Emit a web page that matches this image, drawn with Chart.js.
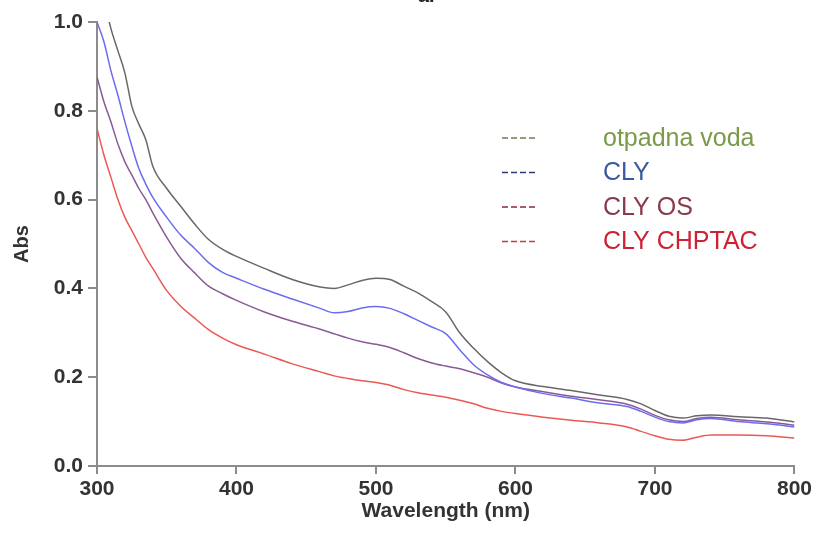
<!DOCTYPE html>
<html>
<head>
<meta charset="utf-8">
<script src="https://cdn.jsdelivr.net/npm/chart.js@4.4.1/dist/chart.umd.min.js"></script>
<style>
  body { margin: 0; background: #fff; }
</style>
</head>
<body>
<canvas id="grafico" width="815" height="536"></canvas>
<script>
// valores (Abs vs nm)
const wavelength = [300, 305, 310, 315, 320, 325, 330, 335, 340, 350, 360, 370, 380, 390, 400,
  420, 440, 460, 470, 480, 490, 500, 510, 520, 530, 540, 550, 560, 570, 580, 590, 600,
  620, 640, 660, 680, 690, 700, 710, 720, 730, 740, 760, 780, 800];

const otpadnaVoda = [1.12, 1.05, 0.985, 0.935, 0.885, 0.81, 0.77, 0.735, 0.675, 0.625, 0.585, 0.545, 0.51, 0.488, 0.472,
  0.445, 0.42, 0.403, 0.40, 0.408, 0.418, 0.423, 0.42, 0.405, 0.39, 0.37, 0.347, 0.30, 0.265, 0.235, 0.21, 0.192,
  0.179, 0.17, 0.16, 0.15, 0.14, 0.125, 0.112, 0.108, 0.113, 0.115, 0.111, 0.108, 0.099];

const cly = [1.0, 0.955, 0.89, 0.835, 0.775, 0.72, 0.67, 0.635, 0.605, 0.56, 0.52, 0.49, 0.458, 0.436, 0.423,
  0.398, 0.376, 0.355, 0.345, 0.348, 0.356, 0.359, 0.355, 0.343, 0.328, 0.313, 0.298, 0.262, 0.228, 0.205, 0.188, 0.178,
  0.163, 0.153, 0.142, 0.134, 0.123, 0.11, 0.10, 0.097, 0.104, 0.107, 0.10, 0.095, 0.088];

const clyOs = [0.876, 0.82, 0.775, 0.725, 0.685, 0.655, 0.625, 0.60, 0.57, 0.515, 0.468, 0.435, 0.405, 0.388, 0.373,
  0.347, 0.326, 0.308, 0.298, 0.288, 0.28, 0.274, 0.267, 0.255, 0.242, 0.232, 0.225, 0.219, 0.21, 0.20, 0.187, 0.178,
  0.167, 0.157, 0.149, 0.139, 0.128, 0.114, 0.104, 0.10, 0.107, 0.11, 0.104, 0.099, 0.092];

const clyChptac = [0.76, 0.70, 0.65, 0.60, 0.56, 0.53, 0.50, 0.47, 0.445, 0.395, 0.36, 0.333, 0.307, 0.288, 0.273,
  0.252, 0.23, 0.212, 0.203, 0.197, 0.192, 0.188, 0.182, 0.172, 0.165, 0.16, 0.155, 0.148, 0.14, 0.13, 0.123, 0.118,
  0.11, 0.103, 0.097, 0.088, 0.078, 0.068, 0.06, 0.058, 0.065, 0.07, 0.07, 0.068, 0.063];

const series = [
  { label: 'otpadna voda', values: otpadnaVoda, color: '#686868', dash: '#6f7f4f', text: '#7a9a4a' },
  { label: 'CLY', values: cly, color: '#6c6cf0', dash: '#2a3a7a', text: '#3a5aa0' },
  { label: 'CLY OS', values: clyOs, color: '#8a5a96', dash: '#8a2a3a', text: '#8a3a4a' },
  { label: 'CLY CHPTAC', values: clyChptac, color: '#ea5a52', dash: '#cc3a3a', text: '#cc2233' }
];

const fuente = '"Liberation Sans", Arial, sans-serif';
const ejeColor = '#8c8c8c';

// leyenda dentro del grafico + la "a." cortada arriba
const leyendaPlugin = {
  id: 'leyenda',
  afterDraw(chart) {
    const ctx = chart.ctx;
    ctx.save();
    ctx.font = 'bold 20px ' + fuente;
    ctx.fillStyle = '#222';
    ctx.textBaseline = 'alphabetic';
    ctx.fillText('a.', 418, 2);

    chart.data.datasets.forEach((ds, i) => {
      const y = 138 + i * 34.5;
      ctx.strokeStyle = ds.legendDash;
      ctx.lineWidth = 1.4;
      ctx.setLineDash([6, 3]);
      ctx.beginPath();
      ctx.moveTo(502, y);
      ctx.lineTo(536, y);
      ctx.stroke();
      ctx.setLineDash([]);
      ctx.font = '25px ' + fuente;
      ctx.fillStyle = ds.legendText;
      ctx.textBaseline = 'middle';
      ctx.fillText(ds.label, 603, y + 1);
    });
    ctx.restore();
  }
};

new Chart(document.getElementById('grafico'), {
  type: 'line',
  data: {
    datasets: series.map(s => ({
      label: s.label,
      data: wavelength.map((w, i) => ({ x: w, y: s.values[i] })),
      borderColor: s.color,
      borderWidth: 1.5,
      pointRadius: 0,
      fill: false,
      cubicInterpolationMode: 'monotone',
      legendDash: s.dash,
      legendText: s.text
    }))
  },
  options: {
    responsive: false,
    animation: false,
    layout: { padding: { top: 22, right: 20, left: 0, bottom: 0 } },
    plugins: {
      legend: { display: false },
      tooltip: { enabled: false }
    },
    scales: {
      x: {
        type: 'linear',
        min: 300,
        max: 800,
        afterFit: s => { s.height = 70; },
        ticks: { stepSize: 100, color: '#333', padding: 3, font: { family: fuente, size: 21, weight: 'bold' } },
        grid: { drawOnChartArea: false, tickLength: 8, color: ejeColor, lineWidth: 2 },
        border: { color: ejeColor, width: 2 },
        title: { display: true, text: 'Wavelength (nm)', color: '#333', padding: { bottom: 12 }, font: { family: fuente, size: 21, weight: 'bold' } }
      },
      y: {
        min: 0,
        max: 1,
        afterFit: s => { s.width = 97; },
        ticks: { stepSize: 0.2, color: '#333', padding: 5, callback: v => v.toFixed(1), font: { family: fuente, size: 21, weight: 'bold' } },
        grid: { drawOnChartArea: false, tickLength: 9, color: ejeColor, lineWidth: 2 },
        border: { color: ejeColor, width: 2 },
        title: { display: true, text: 'Abs', color: '#333', padding: { top: 10 }, font: { family: fuente, size: 20, weight: 'bold' } }
      }
    }
  },
  plugins: [leyendaPlugin]
});
</script>
</body>
</html>
